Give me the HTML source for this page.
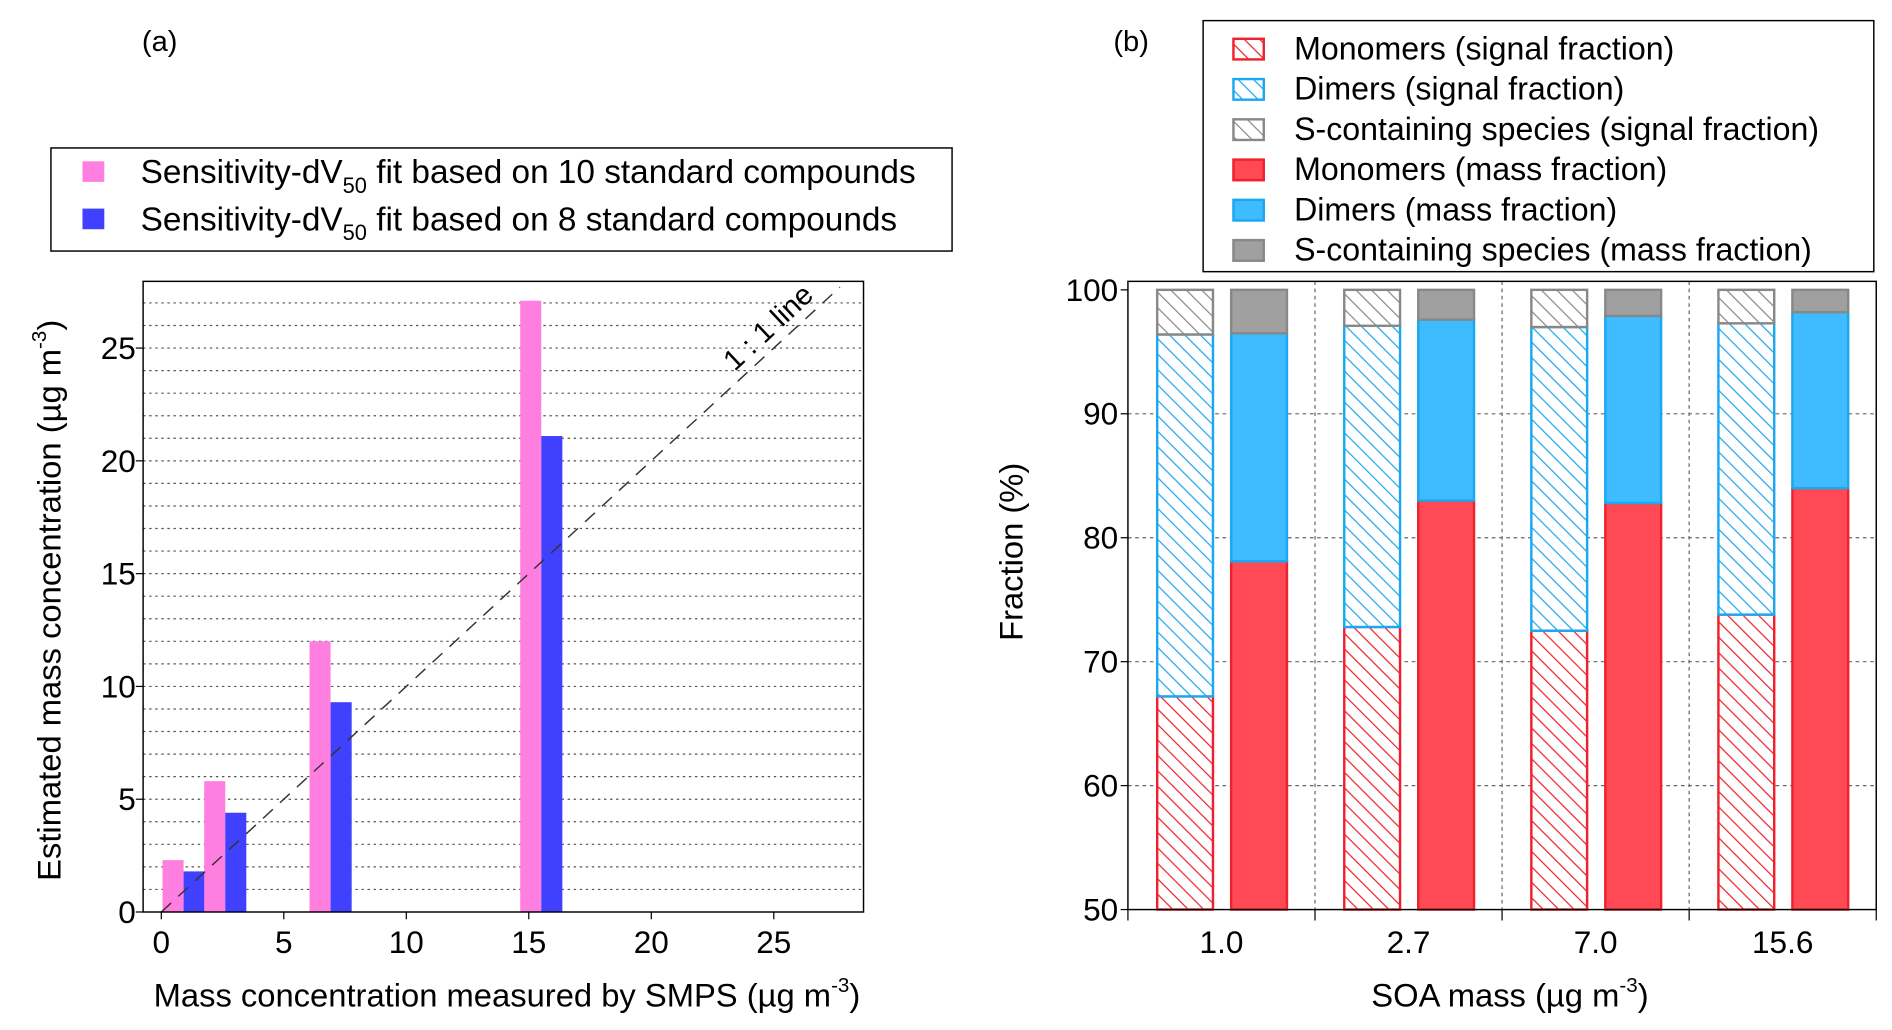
<!DOCTYPE html>
<html><head><meta charset="utf-8">
<style>
html,body{margin:0;padding:0;background:#fff;}
svg{display:block;font-family:"Liberation Sans",Arial,sans-serif;}
</style></head>
<body>
<svg id="fig" width="1892" height="1030" viewBox="0 0 1560 849.3" preserveAspectRatio="none" xmlns="http://www.w3.org/2000/svg">
<defs>
<pattern id="hRed" patternUnits="userSpaceOnUse" width="9" height="9" patternTransform="rotate(-45)"><rect width="9" height="9" fill="#fff"/><line x1="0" y1="0" x2="0" y2="9" stroke="#f0202c" stroke-width="2"/></pattern>
<pattern id="hBlue" patternUnits="userSpaceOnUse" width="9" height="9" patternTransform="rotate(-45)"><rect width="9" height="9" fill="#fff"/><line x1="0" y1="0" x2="0" y2="9" stroke="#1aa8f0" stroke-width="2"/></pattern>
<pattern id="hGray" patternUnits="userSpaceOnUse" width="9" height="9" patternTransform="rotate(-45)"><rect width="9" height="9" fill="#fff"/><line x1="0" y1="0" x2="0" y2="9" stroke="#888" stroke-width="2"/></pattern>
</defs>
<text x="117" y="42" font-size="24">(a)</text>
<text x="918" y="42" font-size="24">(b)</text>
<g id="a"></g>
<g id="b"></g>
</svg>
<script>
// ---- panel (a) data ----
const smpsX = [1.0, 2.7, 7.0, 15.6];
const fit10 = [2.3, 5.8, 12.0, 27.1];
const fit8 = [1.8, 4.4, 9.3, 21.1];
const aXTicks = [0, 5, 10, 15, 20, 25];
const aYTicks = [0, 5, 10, 15, 20, 25];
// ---- panel (b) data ----
const soaCats = ["1.0", "2.7", "7.0", "15.6"];
const sigMono = [67.2, 72.8, 72.5, 73.8];
const sigDimer = [29.2, 24.3, 24.5, 23.5];
const sigS = [3.6, 2.9, 3.0, 2.7];
const massMono = [78.1, 83.0, 82.8, 84.0];
const massDimer = [18.4, 14.6, 15.1, 14.2];
const massS = [3.5, 2.4, 2.1, 1.8];
const bYTicks = [50, 60, 70, 80, 90, 100];

const NS = "http://www.w3.org/2000/svg";
function mk(parent, tag, attrs, text) {
  const e = document.createElementNS(NS, tag);
  for (const k in attrs) e.setAttribute(k, attrs[k]);
  if (text !== undefined) e.textContent = text;
  parent.appendChild(e);
  return e;
}

// ===== Panel A =====
(function () {
  const g = document.getElementById("a");
  const L = 118, R = 712, T = 232, B = 752;
  const x0 = 133, xs = 20.2;
  const ys = 18.6;
  const X = v => x0 + v * xs;
  const Y = v => B - v * ys;
  for (let v = 1; v <= 27; v++) {
    const l = mk(g, "line", { x1: L, x2: R, y1: Y(v), y2: Y(v), stroke: "#555", "stroke-width": 1, "stroke-dasharray": "2,3" });
    
    
  }
  const bw = 0.86;
  smpsX.forEach((x, i) => {
    const p = mk(g, "rect", { x: X(x - 0.95), y: Y(fit10[i]), width: bw * xs, height: Y(0) - Y(fit10[i]), fill: "#ff7fe0" });
    
    
    const b = mk(g, "rect", { x: X(x - 0.95 + bw), y: Y(fit8[i]), width: bw * xs, height: Y(0) - Y(fit8[i]), fill: "#4040ff" });
    
    
  });
  const ol = mk(g, "line", { x1: X(0), y1: Y(0), x2: X(27.7), y2: Y(27.7), stroke: "#333", "stroke-width": 1.2, "stroke-dasharray": "11,8" });
  
  
  const olt = mk(g, "text", { x: 0, y: 0, "font-size": 24, transform: `translate(${X(23.4)},${Y(23.4) - 10}) rotate(-43)` }, "1 : 1 line");
  
  
  const fr = mk(g, "rect", { x: L, y: T, width: R - L, height: B - T, fill: "none", stroke: "#000", "stroke-width": 1.2 });
  
  
  aXTicks.forEach(v => {
    mk(g, "line", { x1: X(v), x2: X(v), y1: B, y2: B + 6, stroke: "#000" });
    const t = mk(g, "text", { x: X(v), y: B + 34, "font-size": 26, "text-anchor": "middle" }, v);
    
    
  });
  aYTicks.forEach(v => {
    mk(g, "line", { x1: L - 6, x2: L, y1: Y(v), y2: Y(v), stroke: "#000" });
    const t = mk(g, "text", { x: L - 6, y: Y(v) + 9, "font-size": 26, "text-anchor": "end" }, v);
    
    
  });
  const xt = mk(g, "text", { x: 418, y: 830, "font-size": 27, "text-anchor": "middle" });
  xt.innerHTML = 'Mass concentration measured by SMPS (µg m<tspan dy="-12" font-size="17">-3</tspan><tspan dy="12">)</tspan>';
  
  
  const yt = mk(g, "text", { x: 0, y: 0, "font-size": 27, "text-anchor": "middle", transform: "translate(50,495) rotate(-90)" });
  yt.innerHTML = 'Estimated mass concentration (µg m<tspan dy="-12" font-size="17">-3</tspan><tspan dy="12">)</tspan>';
  
  
  // legend
  const lg = mk(g, "g", {});
  
  
  mk(lg, "rect", { x: 42, y: 122, width: 743, height: 85, fill: "#fff", stroke: "#000", "stroke-width": 1.2 });
  mk(lg, "rect", { x: 68, y: 133, width: 18, height: 17, fill: "#ff7fe0" });
  mk(lg, "rect", { x: 68, y: 172, width: 18, height: 17, fill: "#4040ff" });
  const l1 = mk(lg, "text", { x: 116, y: 151, "font-size": 27.5 });
  l1.innerHTML = 'Sensitivity-dV<tspan dy="8" font-size="18">50</tspan><tspan dy="-8"> fit based on 10 standard compounds</tspan>';
  
  
  const l2 = mk(lg, "text", { x: 116, y: 190, "font-size": 27.5 });
  l2.innerHTML = 'Sensitivity-dV<tspan dy="8" font-size="18">50</tspan><tspan dy="-8"> fit based on 8 standard compounds</tspan>';
  
  
})();

// ===== Panel B =====
(function () {
  const g = document.getElementById("b");
  const L = 930, R = 1547, T = 232, B = 750;
  const ys = 10.22;
  const Y = v => B - (v - 50) * ys;
  const cw = (R - L) / soaCats.length;
  const C = i => L + cw * (i + 0.5);
  [60, 70, 80, 90].forEach(v => mk(g, "line", { x1: L, x2: R, y1: Y(v), y2: Y(v), stroke: "#666", "stroke-dasharray": "3,3" }));
  for (let i = 1; i < soaCats.length; i++) mk(g, "line", { x1: L + cw * i, x2: L + cw * i, y1: T, y2: B, stroke: "#666", "stroke-dasharray": "3,3" });
  const bw = 46;
  function stack(i, off, vals, fills, strokes, name) {
    let cum = 0;
    vals.forEach((v, k) => {
      const lo = cum, hi = cum + v[i];
      cum = hi;
      const y1 = Y(Math.max(lo, 50)), y2 = Y(hi);
      const r = mk(g, "rect", { x: C(i) + off, y: y2, width: bw, height: y1 - y2, fill: fills[k], stroke: strokes[k], "stroke-width": 2 });
      
      
    });
  }
  soaCats.forEach((c, i) => {
    stack(i, -53, [sigMono, sigDimer, sigS], ["url(#hRed)", "url(#hBlue)", "url(#hGray)"], ["#f0202c", "#1aa8f0", "#888"], ["bar-monomers-signal", "bar-dimers-signal", "bar-s-signal"]);
    stack(i, 8, [massMono, massDimer, massS], ["#ff4a55", "#3ebcff", "#a0a0a0"], ["#f0202c", "#1aa8f0", "#888"], ["bar-monomers-mass", "bar-dimers-mass", "bar-s-mass"]);
    const t = mk(g, "text", { x: C(i), y: 786, "font-size": 26, "text-anchor": "middle" }, c);
    
    
  });
  const fr = mk(g, "rect", { x: L, y: T, width: R - L, height: B - T, fill: "none", stroke: "#000", "stroke-width": 1.2 });
  
  
  for (let i = 0; i <= soaCats.length; i++) mk(g, "line", { x1: L + cw * i, x2: L + cw * i, y1: B, y2: B + 9, stroke: "#000" });
  bYTicks.forEach(v => {
    mk(g, "line", { x1: L - 6, x2: L, y1: Y(v), y2: Y(v), stroke: "#000" });
    const t = mk(g, "text", { x: L - 8, y: Y(v) + 9, "font-size": 26, "text-anchor": "end" }, v);
    
    
  });
  const xt = mk(g, "text", { x: 1245, y: 830, "font-size": 27, "text-anchor": "middle" });
  xt.innerHTML = 'SOA mass (µg m<tspan dy="-12" font-size="17">-3</tspan><tspan dy="12">)</tspan>';
  
  
  const yt = mk(g, "text", { x: 0, y: 0, "font-size": 27, "text-anchor": "middle", transform: "translate(843,455) rotate(-90)" }, "Fraction (%)");
  
  
  // legend
  const lg = mk(g, "g", {});
  
  
  mk(lg, "rect", { x: 992, y: 17, width: 553, height: 207, fill: "#fff", stroke: "#000", "stroke-width": 1.2 });
  const names = ["Monomers (signal fraction)", "Dimers (signal fraction)", "S-containing species (signal fraction)", "Monomers (mass fraction)", "Dimers (mass fraction)", "S-containing species (mass fraction)"];
  const fills = ["url(#hRed)", "url(#hBlue)", "url(#hGray)", "#ff4a55", "#3ebcff", "#a0a0a0"];
  const strokes = ["#f0202c", "#1aa8f0", "#888", "#f0202c", "#1aa8f0", "#888"];
  names.forEach((n, k) => {
    const cy = 40 + k * 33.2;
    mk(lg, "rect", { x: 1017, y: cy - 8, width: 25, height: 17, fill: fills[k], stroke: strokes[k], "stroke-width": 2 });
    const t = mk(lg, "text", { x: 1067, y: cy + 9, "font-size": 26.5 }, n);
    
    
  });
})();
</script>
</body></html>
